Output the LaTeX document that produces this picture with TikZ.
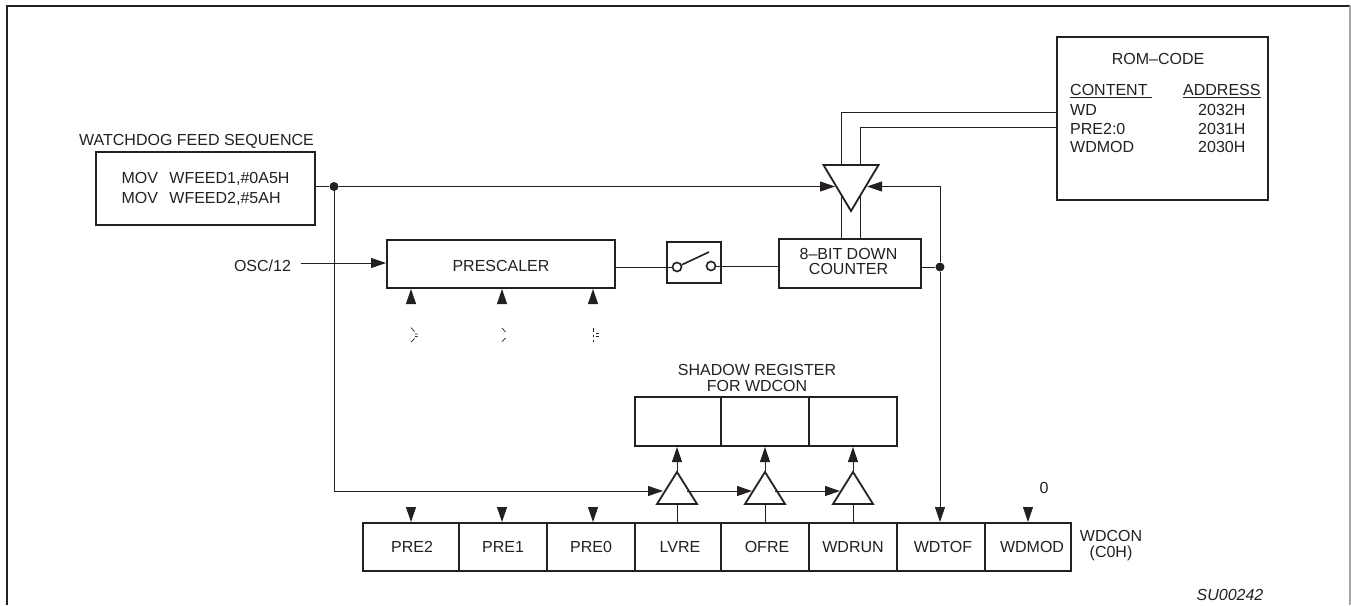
\documentclass[tikz,border=0pt]{standalone}
\usepackage{fontspec}
\setmainfont{Liberation Sans}
\usetikzlibrary{arrows.meta}
\usetikzlibrary{shapes.geometric}
\definecolor{ink}{rgb}{0.14,0.12,0.13}

\tikzset{
  label/.style={inner sep=0pt, text=ink, font=\fontsize{16}{16}\selectfont, align=center},
  box/.style={draw=ink, line width=2pt, inner sep=0pt, text=ink, align=center, font=\fontsize{16}{16}\selectfont},
  wire/.style={draw=ink, line width=.9pt},
  feed/.style={wire, -{Triangle[length=15pt,width=10pt]}},
  dot/.style={circle, fill=ink, inner sep=0pt, minimum size=9pt},
  contact/.style={circle, draw=ink, fill=white, line width=1.6pt, inner sep=0pt, minimum size=9pt},
  buffer/.style={isosceles triangle, isosceles triangle stretches=true, draw=ink, fill=white, line width=1.8pt, inner sep=0pt, outer sep=0pt},
  speck/.style={draw=ink, line width=.7pt}
}

\begin{document}
\begin{tikzpicture}[x=1pt,y=-1pt]

\useasboundingbox (0,0) rectangle (1351,605);

\coordinate (frameSW) at (7,605);
\coordinate (frameNW) at (7,5.5);
\coordinate (frameNE) at (1350,5.5);
\coordinate (frameSE) at (1350,605);
\draw[draw=ink, line width=2pt] (frameSW) -- (frameNW) -- (frameNE);
\draw[draw=gray!70, line width=1.2pt] (frameNE) -- (frameSE);

\node[box, minimum width=219pt, minimum height=73pt, align=left, font=\fontsize{16}{20}\selectfont] (feedbox) at (205.5,188.5) {MOV\hspace{7pt} WFEED1,\#0A5H\\MOV\hspace{7pt} WFEED2,\#5AH};
\node[label] (feedtitle) at (196.5,141) {WATCHDOG FEED SEQUENCE};

\node[box, minimum width=228pt, minimum height=48pt] (prescaler) at (501,264) {};
\node[label] (prescalertext) at (501,265.5) {PRESCALER};
\node[box, minimum width=54pt, minimum height=41pt] (switchbox) at (694,262.5) {};
\node[box, minimum width=142pt, minimum height=49pt] (counter) at (850,263.5) {};
\node[label, font=\fontsize{16}{15}\selectfont] (countertext) at (848.5,261.5) {8--BIT DOWN\\COUNTER};

\node[box, minimum width=211pt, minimum height=163pt] (rombox) at (1162.5,118.5) {};
\node[label] (romtitle) at (1158,59) {ROM--CODE};
\node[label, anchor=west] (content) at (1070,91) {\underline{CONTENT\ }};
\node[label, anchor=west] (address) at (1183,91) {\underline{ADDRESS}};
\node[label, anchor=west] (romwd) at (1070,109.5) {WD};
\node[label, anchor=west] (rompre) at (1070,128.5) {PRE2:0};
\node[label, anchor=west] (rommod) at (1070,147) {WDMOD};
\node[label, anchor=west] (addrwd) at (1198,109.5) {2032H};
\node[label, anchor=west] (addrpre) at (1198,128.5) {2031H};
\node[label, anchor=west] (addrmod) at (1198,147) {2030H};

\node[label] (osc) at (262.5,266) {OSC/12};
\coordinate (oscstart) at (301,263);
\draw[feed] (oscstart) -- (oscstart -| prescaler.west);

\node[label] (shadowtitle) at (757,378) {SHADOW REGISTER\\FOR WDCON};
\node[box, minimum width=86pt, minimum height=49pt] (shadow1) at (678,421.5) {};
\node[box, minimum width=88pt, minimum height=49pt] (shadow2) at (765,421.5) {};
\node[box, minimum width=88pt, minimum height=49pt] (shadow3) at (853,421.5) {};

\node[box, minimum width=96pt, minimum height=48pt] (pre2) at (411,547) {\hspace*{2pt}PRE2};
\node[box, minimum width=88pt, minimum height=48pt] (pre1) at (503,547) {PRE1};
\node[box, minimum width=88pt, minimum height=48pt] (pre0) at (591,547) {PRE0};
\node[box, minimum width=86pt, minimum height=48pt] (lvre) at (678,547) {\hspace*{4pt}LVRE};
\node[box, minimum width=88pt, minimum height=48pt] (ofre) at (765,547) {\hspace*{4pt}OFRE};
\node[box, minimum width=88pt, minimum height=48pt] (wdrun) at (853,547) {WDRUN};
\node[box, minimum width=88pt, minimum height=48pt] (wdtof) at (941,547) {\hspace*{4pt}WDTOF};
\node[box, minimum width=86pt, minimum height=48pt] (wdmod) at (1028,547) {\hspace*{8pt}WDMOD};
\node[label] (wdcon) at (1111,546) {WDCON\\(C0H)};
\node[label, font=\fontsize{16}{16}\selectfont\itshape] (sunumber) at (1230,595) {SU00242};
\node[label] (zero) at (1044,488) {0};

\coordinate (stem1top) at (841,112);
\coordinate (stem2top) at (860,127);
\draw[wire] (rombox.west |- stem1top) -- (stem1top) -- (stem1top |- counter.north);
\draw[wire] (rombox.west |- stem2top) -- (stem2top) -- (stem2top |- counter.north);

\node[buffer, shape border rotate=270, minimum width=55pt, minimum height=46pt, anchor=apex] (gate) at (851,211) {};

\node[contact] (contactA) at (677,267) {};
\node[contact] (contactB) at (711,266) {};
\coordinate (blade) at (709,252);
\draw[wire, line width=1.6pt] (contactA) -- (blade);
\draw[wire] (prescaler.east |- contactA) -- (contactA);
\draw[wire] (contactB) -- (contactB -| counter.west);

\node[dot] (feedjoin) at (334,186.5) {};
\coordinate (gatein) at (835,186.5);
\draw[wire] (feedbox.east |- feedjoin) -- (feedjoin);
\draw[feed] (feedjoin) -- (gatein);

\node[dot] (countjoin) at (940,267) {};
\coordinate (gatecorner) at (940,186.5);
\coordinate (gateback) at (867,186.5);
\draw[wire] (counter.east |- countjoin) -- (countjoin);
\draw[feed] (countjoin) -- (gatecorner) -- (gateback);
\draw[feed] (countjoin) -- (countjoin |- wdtof.north);

\coordinate (busturn) at (334,491);
\coordinate (in1) at (663,491);
\coordinate (out1) at (687,491);
\coordinate (in2) at (752,491);
\coordinate (out2) at (775,491);
\coordinate (in3) at (840,491);
\node[buffer, shape border rotate=90, minimum width=40pt, minimum height=32pt, anchor=apex] (buf1) at (677,472) {};
\node[buffer, shape border rotate=90, minimum width=40pt, minimum height=32pt, anchor=apex] (buf2) at (765,472) {};
\node[buffer, shape border rotate=90, minimum width=40pt, minimum height=32pt, anchor=apex] (buf3) at (853,472) {};
\draw[feed] (feedjoin) -- (busturn) -- (in1);
\draw[feed] (out1) -- (in2);
\draw[feed] (out2) -- (in3);

\draw[feed] (buf1.apex) -- (buf1.apex |- shadow1.south);
\draw[feed] (buf2.apex) -- (buf2.apex |- shadow2.south);
\draw[feed] (buf3.apex) -- (buf3.apex |- shadow3.south);
\draw[wire] (lvre.north -| buf1.apex) -- (buf1.apex |- 0,504);
\draw[wire] (ofre.north -| buf2.apex) -- (buf2.apex |- 0,504);
\draw[wire] (wdrun.north -| buf3.apex) -- (buf3.apex |- 0,504);

\coordinate (up2) at (411,303);
\coordinate (up1) at (502,303);
\coordinate (up0) at (593,303);
\draw[feed] (up2) -- (up2 |- prescaler.south);
\draw[feed] (up1) -- (up1 |- prescaler.south);
\draw[feed] (up0) -- (up0 |- prescaler.south);

\coordinate (down2) at (411,507);
\coordinate (down1) at (502,507);
\coordinate (down0) at (593,507);
\coordinate (downmod) at (1028,507);
\draw[feed] (down2) -- (down2 |- pre2.north);
\draw[feed] (down1) -- (down1 |- pre1.north);
\draw[feed] (down0) -- (down0 |- pre0.north);
\draw[feed] (downmod) -- (downmod |- wdmod.north);

\draw[speck] (411,327.5) -- (414.5,331.5) (415,334) -- (417.5,334) (415,336.5) -- (417.5,336.5) (414.5,338.5) -- (411,342);
\draw[speck] (502,328) -- (505.5,332) (505.5,338) -- (502,341.5);
\draw[speck] (593,327.5) -- (593,331.5) (593,335) -- (593,337) (593,339.5) -- (593,341.5) (596,333.5) -- (598.5,333.5) (596,336) -- (598.5,336);

\end{tikzpicture}
\end{document}
